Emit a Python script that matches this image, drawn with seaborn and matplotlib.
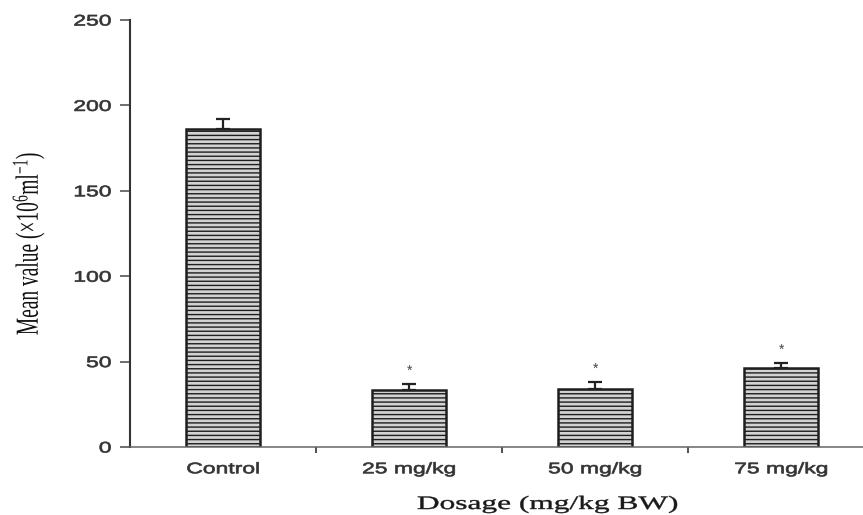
import matplotlib
matplotlib.use("Agg")
import matplotlib.pyplot as plt
import seaborn as sns
import numpy as np
import pandas as pd
from matplotlib.patheffects import AbstractPathEffect
from matplotlib.transforms import Affine2D

categories = ["Control", "25 mg/kg", "50 mg/kg", "75 mg/kg"]
means = [186, 33.4, 34.1, 46.1]
errors = [6, 3.3, 3.8, 2.9]
significant = [False, True, True, True]
yticks = [0, 50, 100, 150, 200, 250]


class HStretch(AbstractPathEffect):
    """Stretch rendered text horizontally (display x) about an anchor."""

    def __init__(self, sx, anchor="center", stroke=0.0):
        super().__init__()
        self.sx = sx
        self.anchor = anchor
        self.stroke = stroke

    def draw_path(self, renderer, gc, tpath, affine, rgbFace=None):
        ext = tpath.get_extents(affine)
        if self.anchor == "right":
            cx = ext.x1
        elif self.anchor == "left":
            cx = ext.x0
        else:
            cx = 0.5 * (ext.x0 + ext.x1)
        new = affine + Affine2D().translate(-cx, 0).scale(self.sx, 1).translate(cx, 0)
        if self.stroke > 0 and rgbFace is not None:
            gc0 = renderer.new_gc()
            gc0.copy_properties(gc)
            gc0.set_linewidth(self.stroke)
            gc0.set_foreground(rgbFace)
            renderer.draw_path(gc0, tpath, new, rgbFace)
            gc0.restore()
        else:
            renderer.draw_path(gc, tpath, new, rgbFace)


sns.set_style("white")
plt.rcParams["hatch.color"] = "#6a6a6a"
plt.rcParams["hatch.linewidth"] = 1.0
plt.rcParams["mathtext.fontset"] = "custom"
plt.rcParams["mathtext.rm"] = "Liberation Serif"
plt.rcParams["mathtext.it"] = "Liberation Serif:italic"

fig = plt.figure(figsize=(8.63, 5.15), dpi=100)
ax = fig.add_axes([130 / 863, 68 / 515, 733 / 863, 427 / 515])

df = pd.DataFrame({"cat": categories, "val": means})
sns.barplot(data=df, x="cat", y="val", ax=ax, width=0.4,
            color="#d2d2d2", edgecolor="#1e1e1e", linewidth=1.8,
            hatch="----", saturation=1)

xs = np.arange(len(categories))
ax.errorbar(xs, means, yerr=[np.zeros(len(errors)), errors], fmt="none",
            ecolor="#222222", elinewidth=1.6, capsize=4.7, capthick=1.6)
for x, m, e, s in zip(xs, means, errors, significant):
    if s:
        ax.annotate("*", xy=(x, m + e), xytext=(0, 5), textcoords="offset points",
                    ha="center", va="bottom", fontsize=10, color="#444444",
                    family="Liberation Sans")

ax.set_ylim(0, 250)
ax.set_xlim(-0.5, 3.44)
ax.set_yticks(yticks)
ax.set_yticklabels([str(t) for t in yticks], fontsize=11, color="#333333",
                   family="Liberation Sans")
ax.set_xticks(xs)
ax.set_xticklabels(categories, fontsize=11, color="#333333",
                   family="Liberation Sans")
for lab in ax.get_yticklabels():
    lab.set_path_effects([HStretch(1.5, "right", stroke=0.5)])
for lab in ax.get_xticklabels():
    lab.set_path_effects([HStretch(1.5, "center", stroke=0.5)])

ax.tick_params(axis="x", length=0, pad=11)
ax.set_xticks([0.5, 1.5, 2.5], minor=True)
ax.tick_params(axis="x", which="minor", length=4, width=1.2, color="#333333",
               direction="out", bottom=True)
ax.tick_params(axis="y", length=7.5, width=1.2, color="#555555", direction="out",
               left=True, pad=6)

for side in ["top", "right"]:
    ax.spines[side].set_visible(False)
ax.spines["left"].set_color("#333333")
ax.spines["left"].set_linewidth(1.5)
ax.spines["bottom"].set_color("#666666")
ax.spines["bottom"].set_linewidth(1.1)

ylab = ax.set_ylabel(r"Mean value ($\times$10$^{6}$ml$^{-1}$)",
                     family="Liberation Serif", fontsize=14, color="#111111")
ylab.set_va("center")
ylab.set_path_effects([HStretch(1.65, "center")])
ax.yaxis.set_label_coords((29 - 130) / 733, (447 - 243) / 427)

xlab = ax.set_xlabel("Dosage (mg/kg BW)", family="Liberation Serif", fontsize=13.7,
                     color="#1a1a1a")
xlab.set_va("baseline")
xlab.set_path_effects([HStretch(1.65, "center", stroke=0.3)])
ax.xaxis.set_label_coords((547.5 - 130) / 733, (447 - 509) / 427)

fig.savefig("out.png", dpi=100)
